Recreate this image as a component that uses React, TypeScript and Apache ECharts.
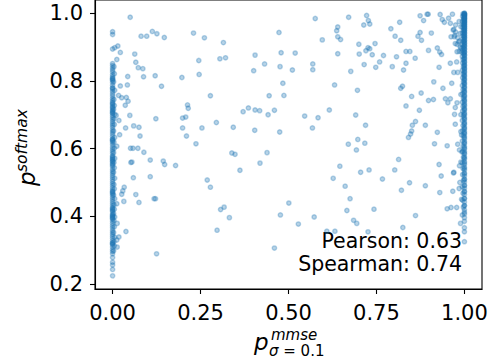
import React, { useEffect, useRef } from "react";
import * as echarts from "echarts";

// x = 0 column (p_mmse = 0)
const zeroColumnY = [
  0.945, 0.937, 0.894, 0.851, 0.845, 0.838, 0.832, 0.826, 0.818, 0.812, 0.808, 0.806, 0.803, 0.801,
  0.795, 0.787, 0.779, 0.779, 0.774, 0.768, 0.761, 0.755, 0.748, 0.742, 0.737, 0.733, 0.731, 0.726,
  0.722, 0.719, 0.714, 0.711, 0.708, 0.705, 0.703, 0.697, 0.691, 0.685, 0.679, 0.673, 0.668, 0.662,
  0.655, 0.649, 0.643, 0.636, 0.629, 0.627, 0.624, 0.622, 0.617, 0.611, 0.604, 0.598, 0.592, 0.586,
  0.579, 0.576, 0.573, 0.569, 0.568, 0.563, 0.562, 0.557, 0.554, 0.551, 0.546, 0.539, 0.533, 0.527,
  0.521, 0.515, 0.509, 0.503, 0.497, 0.491, 0.484, 0.478, 0.474, 0.472, 0.469, 0.466, 0.461, 0.455,
  0.449, 0.443, 0.437, 0.431, 0.425, 0.423, 0.419, 0.417, 0.413, 0.407, 0.404, 0.401, 0.399, 0.396,
  0.394, 0.391, 0.385, 0.379, 0.372, 0.366, 0.359, 0.353, 0.347, 0.341, 0.335, 0.328, 0.322, 0.321,
  0.318, 0.316, 0.309, 0.302, 0.296, 0.289, 0.278, 0.264, 0.256, 0.243, 0.224,
];

// points hugging the x = 0 column (p_mmse just above 0)
const nearZeroPoints: [number, number][] = [
  [0.004, 0.842], [0.005, 0.821], [0.003, 0.797], [0.006, 0.772], [0.004, 0.745], [0.005, 0.727],
  [0.003, 0.716], [0.006, 0.701], [0.004, 0.688], [0.005, 0.671], [0.003, 0.652], [0.006, 0.633],
  [0.004, 0.619], [0.005, 0.601], [0.003, 0.588], [0.006, 0.571], [0.004, 0.559], [0.005, 0.543],
  [0.003, 0.53], [0.006, 0.512], [0.004, 0.494], [0.005, 0.481], [0.003, 0.463], [0.006, 0.452],
  [0.004, 0.434], [0.005, 0.421], [0.003, 0.408], [0.006, 0.398], [0.004, 0.387], [0.005, 0.369],
  [0.003, 0.352], [0.006, 0.338], [0.004, 0.325], [0.005, 0.312], [0.003, 0.298],
];

// x = 1 column (p_mmse = 1)
const oneColumnY = [
  1.0, 0.999, 0.998, 0.997, 0.996, 0.995, 0.994, 0.993, 0.992, 0.99, 0.989, 0.988, 0.986, 0.985,
  0.984, 0.982, 0.981, 0.979, 0.977, 0.976, 0.974, 0.972, 0.971, 0.968, 0.967, 0.965, 0.962, 0.961,
  0.959, 0.956, 0.955, 0.953, 0.95, 0.948, 0.947, 0.943, 0.941, 0.94, 0.936, 0.934, 0.932, 0.929,
  0.927, 0.925, 0.921, 0.919, 0.917, 0.913, 0.911, 0.909, 0.905, 0.903, 0.901, 0.896, 0.894, 0.892,
  0.887, 0.885, 0.883, 0.878, 0.876, 0.874, 0.869, 0.866, 0.864, 0.859, 0.856, 0.854, 0.849, 0.846,
  0.844, 0.839, 0.836, 0.834, 0.829, 0.826, 0.823, 0.818, 0.815, 0.812, 0.807, 0.804, 0.801, 0.795,
  0.792, 0.789, 0.783, 0.78, 0.777, 0.771, 0.768, 0.765, 0.758, 0.755, 0.752, 0.746, 0.742, 0.739,
  0.733, 0.729, 0.726, 0.719, 0.716, 0.713, 0.706, 0.702, 0.699, 0.692, 0.688, 0.685, 0.678, 0.674,
  0.671, 0.664, 0.66, 0.657, 0.65, 0.646, 0.643, 0.636, 0.632, 0.628, 0.621, 0.617, 0.614, 0.606,
  0.602, 0.599, 0.591, 0.587, 0.584, 0.576, 0.572, 0.569, 0.561, 0.557, 0.553, 0.545, 0.541, 0.537,
  0.528, 0.525, 0.519, 0.51, 0.508, 0.501, 0.492, 0.49, 0.483, 0.474, 0.472, 0.464, 0.453, 0.452,
  0.442, 0.432, 0.431, 0.419, 0.412, 0.407, 0.396, 0.385, 0.366, 0.354, 0.325,
];

// points hugging the x = 1 column (p_mmse just below 1)
const nearOnePoints: [number, number][] = [
  [0.996, 0.998], [0.995, 0.991], [0.997, 0.983], [0.994, 0.975], [0.996, 0.966], [0.995, 0.958],
  [0.997, 0.949], [0.994, 0.941], [0.996, 0.933], [0.995, 0.924], [0.997, 0.916], [0.994, 0.907],
  [0.996, 0.899], [0.995, 0.89], [0.997, 0.881], [0.994, 0.872], [0.996, 0.863], [0.995, 0.853],
  [0.997, 0.842], [0.994, 0.831], [0.996, 0.82], [0.995, 0.809], [0.997, 0.797], [0.994, 0.786],
  [0.996, 0.774], [0.995, 0.762], [0.997, 0.749], [0.994, 0.737], [0.996, 0.724], [0.995, 0.711],
  [0.997, 0.697], [0.994, 0.683], [0.996, 0.668], [0.995, 0.653], [0.997, 0.638], [0.994, 0.622],
  [0.996, 0.607], [0.995, 0.591], [0.997, 0.574], [0.994, 0.558], [0.996, 0.541], [0.995, 0.523],
  [0.997, 0.506], [0.994, 0.487], [0.996, 0.468], [0.995, 0.447], [0.997, 0.427], [0.994, 0.404],
];

// scattered points [p_mmse, p_softmax]
const scatterPoints: [number, number][] = [
  [0.05, 0.988], [0.113, 0.946], [0.126, 0.939], [0.081, 0.932], [0.097, 0.932], [0.147, 0.928],
  [0.23, 0.941], [0.261, 0.927], [0.315, 0.913], [0.015, 0.903], [0.006, 0.898], [0.022, 0.884],
  [0.063, 0.879], [0.012, 0.863], [0.245, 0.86], [0.305, 0.865], [0.321, 0.868], [0.066, 0.855],
  [0.073, 0.839], [0.086, 0.836], [0.043, 0.813], [0.088, 0.812], [0.121, 0.815], [0.197, 0.81],
  [0.246, 0.819], [0.139, 0.784], [0.022, 0.785], [0.042, 0.788], [0.017, 0.757], [0.026, 0.75],
  [0.039, 0.751], [0.044, 0.74], [0.036, 0.728], [0.278, 0.756], [0.213, 0.729], [0.215, 0.719],
  [0.386, 0.72], [0.371, 0.709], [0.01, 0.698], [0.049, 0.698], [0.018, 0.683], [0.123, 0.688],
  [0.199, 0.69], [0.208, 0.693], [0.295, 0.677], [0.037, 0.661], [0.06, 0.667], [0.075, 0.663],
  [0.199, 0.661], [0.254, 0.661], [0.343, 0.663], [0.02, 0.641], [0.078, 0.637], [0.21, 0.637],
  [0.012, 0.607], [0.051, 0.601], [0.058, 0.601], [0.072, 0.601], [0.237, 0.614], [0.089, 0.589],
  [0.339, 0.587], [0.348, 0.583], [0.107, 0.566], [0.144, 0.563], [0.148, 0.553], [0.179, 0.55],
  [0.052, 0.559], [0.055, 0.56], [0.362, 0.536], [0.059, 0.514], [0.107, 0.517], [0.269, 0.507],
  [0.278, 0.486], [0.033, 0.486], [0.029, 0.475], [0.026, 0.465], [0.066, 0.464], [0.075, 0.441],
  [0.032, 0.444], [0.012, 0.437], [0.118, 0.452], [0.122, 0.452], [0.307, 0.42], [0.317, 0.427],
  [0.332, 0.396], [0.297, 0.359], [0.013, 0.379], [0.038, 0.355], [0.018, 0.339], [0.012, 0.33],
  [0.013, 0.309], [0.125, 0.289],
  [0.576, 0.984], [0.671, 0.988], [0.722, 0.993], [0.727, 0.978], [0.731, 0.968], [0.714, 0.965],
  [0.874, 0.992], [0.894, 0.997], [0.897, 0.997], [0.884, 0.978], [0.931, 0.996], [0.937, 0.981],
  [0.943, 0.973], [0.966, 0.997], [0.816, 0.973], [0.791, 0.954], [0.64, 0.959], [0.637, 0.948],
  [0.473, 0.943], [0.64, 0.93], [0.648, 0.922], [0.596, 0.921], [0.803, 0.932], [0.819, 0.92],
  [0.874, 0.943], [0.868, 0.932], [0.878, 0.92], [0.906, 0.941], [0.968, 0.95], [0.962, 0.93],
  [0.971, 0.93], [0.7, 0.908], [0.746, 0.91], [0.726, 0.898], [0.72, 0.889], [0.731, 0.895],
  [0.64, 0.88], [0.701, 0.879], [0.738, 0.877], [0.77, 0.875], [0.807, 0.871], [0.834, 0.887],
  [0.845, 0.887], [0.86, 0.867], [0.898, 0.89], [0.923, 0.897], [0.93, 0.885], [0.935, 0.878],
  [0.974, 0.91], [0.984, 0.915], [0.979, 0.886], [0.405, 0.876], [0.479, 0.883], [0.519, 0.882],
  [0.432, 0.85], [0.476, 0.842], [0.401, 0.83], [0.511, 0.832], [0.569, 0.85], [0.569, 0.833],
  [0.677, 0.828], [0.715, 0.848], [0.748, 0.84], [0.759, 0.856], [0.795, 0.842], [0.827, 0.832],
  [0.834, 0.852], [0.928, 0.84], [0.96, 0.852], [0.978, 0.856], [0.97, 0.825], [0.981, 0.825],
  [0.484, 0.793], [0.631, 0.788], [0.696, 0.772], [0.819, 0.778], [0.824, 0.784], [0.913, 0.797],
  [0.939, 0.778], [0.964, 0.793], [0.445, 0.756], [0.487, 0.757], [0.85, 0.754], [0.877, 0.764],
  [0.898, 0.742], [0.912, 0.745], [0.946, 0.747], [0.953, 0.735], [0.96, 0.747], [0.974, 0.721],
  [0.834, 0.726], [0.872, 0.713], [0.972, 0.701], [0.405, 0.714], [0.418, 0.712], [0.46, 0.713],
  [0.442, 0.7], [0.546, 0.696], [0.584, 0.691], [0.616, 0.714], [0.691, 0.699], [0.719, 0.669],
  [0.861, 0.68], [0.852, 0.669], [0.889, 0.669], [0.974, 0.672], [0.404, 0.654], [0.475, 0.649],
  [0.568, 0.661], [0.85, 0.652], [0.847, 0.643], [0.841, 0.633], [0.923, 0.648], [0.99, 0.65],
  [0.697, 0.627], [0.717, 0.616], [0.67, 0.613], [0.693, 0.596], [0.915, 0.614], [0.951, 0.608],
  [0.981, 0.613], [0.986, 0.596], [0.439, 0.588], [0.419, 0.557], [0.646, 0.548], [0.813, 0.568],
  [0.928, 0.553], [0.986, 0.549], [0.705, 0.53], [0.729, 0.537], [0.802, 0.537], [0.934, 0.519],
  [0.969, 0.528], [0.627, 0.512], [0.767, 0.51],
  [0.661, 0.489], [0.675, 0.452], [0.501, 0.439], [0.477, 0.404], [0.528, 0.377], [0.573, 0.398],
  [0.666, 0.417], [0.685, 0.388], [0.694, 0.379], [0.743, 0.421], [0.821, 0.477], [0.844, 0.499],
  [0.889, 0.49], [0.861, 0.402], [0.825, 0.367], [0.93, 0.47], [0.967, 0.474], [0.951, 0.422],
  [0.962, 0.426], [0.978, 0.426], [0.989, 0.379], [0.609, 0.356], [0.632, 0.356], [0.726, 0.354],
  [0.46, 0.306],
  [0.97, 0.952], [0.973, 0.935], [0.981, 0.927], [0.986, 0.918], [0.979, 0.908], [0.988, 0.9],
  [0.99, 0.896], [0.985, 0.887], [0.992, 0.885], [0.979, 0.735], [0.97, 0.53], [0.99, 0.76],
  [0.99, 0.7], [0.992, 0.64], [0.993, 0.59], [0.99, 0.56], [0.987, 0.5], [0.985, 0.482],
  [0.992, 0.45], [0.955, 0.985], [0.96, 0.97], [0.975, 0.965], [0.985, 0.975], [0.99, 0.96],
  [0.988, 0.94], [0.975, 0.944],
];

const xTicks = [0, 0.25, 0.5, 0.75, 1.0];
const yTicks = [0.2, 0.4, 0.6, 0.8, 1.0];
const statLines = ["Pearson: 0.63", "Spearman: 0.74"];

const FONT = "DejaVu Sans";

export default function App() {
  const ref = useRef<HTMLDivElement>(null);
  useEffect(() => {
    if (!ref.current) return;
    const chart = echarts.init(ref.current, null, { renderer: "svg" });
    const data: number[][] = [
      ...zeroColumnY.map((y) => [0, y]),
      ...nearZeroPoints.map((p) => [p[0], p[1]]),
      ...scatterPoints.map((p) => [p[0], p[1]]),
      ...nearOnePoints.map((p) => [p[0], p[1]]),
      ...oneColumnY.map((y) => [1, y]),
    ];
    const axisCommon = {
      type: "value" as const,
      axisLine: { show: true, onZero: false, lineStyle: { color: "#000", width: 1.1 } },
      splitLine: { show: false },
    };
    chart.setOption({
      animation: false,
      grid: {
        left: 95,
        right: 12,
        top: 0,
        bottom: 73,
        show: true,
        borderColor: "#000",
        borderWidth: 1.1,
        backgroundColor: "transparent",
      },
      xAxis: {
        ...axisCommon,
        min: -0.05,
        max: 1.05,
        axisTick: {
          show: true,
          inside: false,
          length: 5,
          customValues: xTicks,
          lineStyle: { color: "#000", width: 1.1 },
        },
        axisLabel: {
          customValues: xTicks,
          formatter: (v: number) => v.toFixed(2),
          fontSize: 21,
          fontFamily: FONT,
          color: "#000",
          margin: 13,
        },
      },
      yAxis: {
        ...axisCommon,
        min: 0.1852,
        max: 1.0388,
        axisTick: {
          show: true,
          inside: false,
          length: 5,
          customValues: yTicks,
          lineStyle: { color: "#000", width: 1.1 },
        },
        axisLabel: {
          customValues: yTicks,
          formatter: (v: number) => v.toFixed(1),
          fontSize: 21,
          fontFamily: FONT,
          color: "#000",
          margin: 12,
        },
      },
      series: [
        {
          type: "scatter",
          data,
          symbol: "circle",
          symbolSize: 4.4,
          itemStyle: {
            color: "rgba(31,119,180,0.4)",
            borderColor: "rgba(31,119,180,0.4)",
            borderWidth: 1.4,
          },
          emphasis: { disabled: true },
        },
      ],
      graphic: [
        {
          type: "text",
          right: 494 - 462,
          top: 230,
          style: {
            text: statLines[0],
            font: `20.5px "${FONT}"`,
            fill: "#000",
            align: "right",
          },
        },
        {
          type: "text",
          right: 494 - 462,
          top: 253,
          style: {
            text: statLines[1],
            font: `20.5px "${FONT}"`,
            fill: "#000",
            align: "right",
          },
        },
        // x axis label: p^{mmse}_{sigma=0.1}
        {
          type: "group",
          x: 254,
          y: 343,
          children: [
            {
              type: "text",
              x: 0,
              y: -1.5,
              style: {
                text: "p",
                font: `italic 23px "${FONT}"`,
                lineHeight: 18,
                fill: "#000",
                verticalAlign: "middle",
              },
            },
            {
              type: "text",
              x: 15,
              y: 0,
              style: {
                text: "{s|mmse}\n{i|σ}{n| = 0.1}",
                verticalAlign: "middle",
                lineHeight: 16,
                rich: {
                  s: { font: `italic 15px "${FONT}"`, fill: "#000", lineHeight: 16, padding: [0, 0, 0, 2] },
                  i: { font: `italic 15px "${FONT}"`, fill: "#000", lineHeight: 16 },
                  n: { font: `15px "${FONT}"`, fill: "#000", lineHeight: 16 },
                },
              },
            },
          ],
        },
        // y axis label: p^{softmax}
        {
          type: "group",
          x: 35,
          y: 186,
          rotation: Math.PI / 2,
          children: [
            {
              type: "text",
              x: 0,
              y: -8,
              style: {
                text: "p",
                font: `italic 23px "${FONT}"`,
                fill: "#000",
                verticalAlign: "middle",
              },
            },
            {
              type: "text",
              x: 14,
              y: -13,
              style: {
                text: "softmax",
                font: `italic 15.5px "${FONT}"`,
                fill: "#000",
                verticalAlign: "middle",
              },
            },
          ],
        },
      ],
    });
    return () => chart.dispose();
  }, []);
  return (
    <div
      ref={ref}
      style={{ position: "fixed", left: 0, top: 0, width: 494, height: 362, background: "#fff" }}
    />
  );
}
